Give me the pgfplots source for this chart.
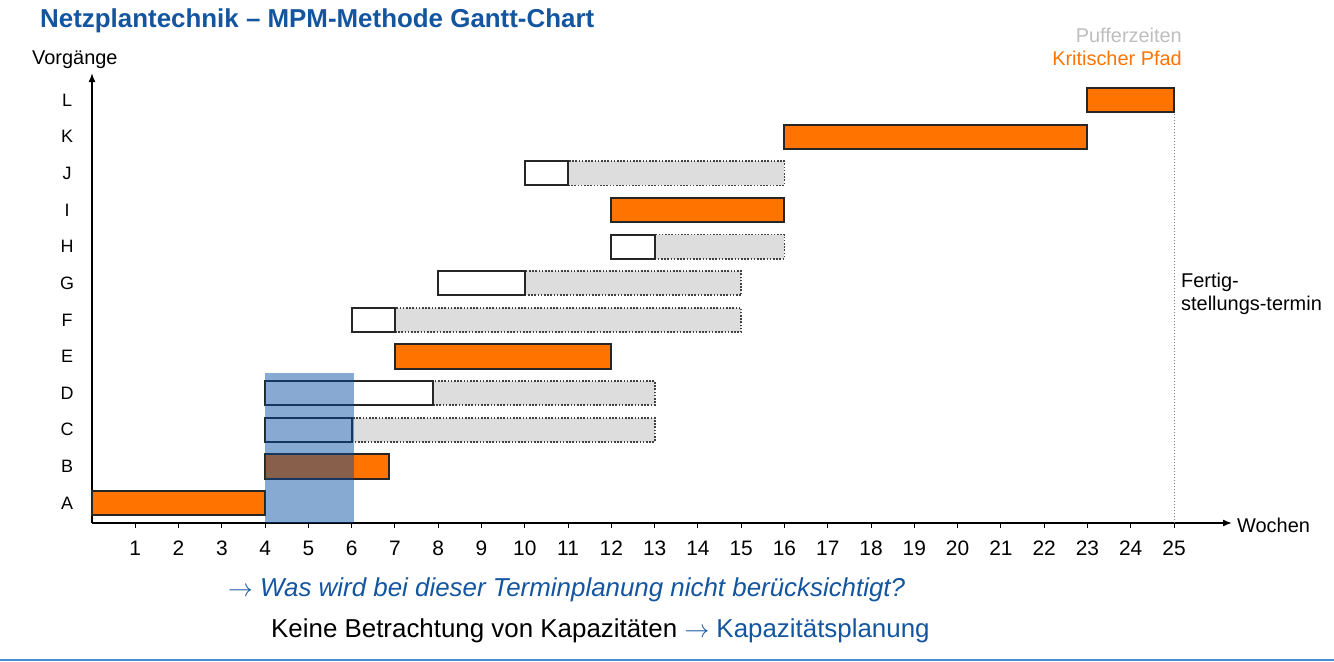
\documentclass[border=0pt]{standalone}
\usepackage{pgfplots}
\pgfplotsset{compat=1.18}
\usetikzlibrary{arrows.meta}
\usepackage{fontspec}
\setmainfont{Liberation Sans}
\definecolor{critC}{RGB}{255,115,0}
\definecolor{bufC}{RGB}{221,221,221}
\definecolor{titleC}{RGB}{20,85,160}
\definecolor{legGray}{RGB}{190,190,190}
\definecolor{lineBlue}{RGB}{70,140,210}
\definecolor{hlC}{RGB}{0,74,160}
\newcommand{\fs}[1]{\fontsize{#1}{#1}\selectfont}
\newcommand{\arr}{\ensuremath{\rightarrow}}
\begin{document}
\begin{tikzpicture}[x=1bp,y=-1bp]
\useasboundingbox (0,0) rectangle (1334,662);
\begin{axis}[
  at={(92bp,-523bp)}, anchor=south west,
  width=1140bp, height=450bp, scale only axis,
  xmin=0, xmax=26.34, ymin=0.455, ymax=12.74,
  axis lines=left,
  axis line style={line width=1.5bp, -{Latex[length=9bp,width=7bp]}},
  xtick={1,...,25}, ytick={1,...,12},
  yticklabels={A,B,C,D,E,F,G,H,I,J,K,L},
  /pgf/number format/assume math mode=true,
  x tick style={line width=1bp, black},
  y tick style={draw=none},
  tick align=outside, major tick length=5bp,
  xticklabel style={font=\fs{21}, anchor=base, yshift=-27bp},
  yticklabel style={font=\fs{18}, anchor=center, xshift=-20bp},
  clip=false,
  crit/.style={fill=critC, draw=black!85, line width=2bp},
  act/.style={fill=white, draw=black!85, line width=2bp},
  buf/.style={fill=bufC, draw=black!75, line width=1.8bp, dash pattern=on 1.6bp off 1.6bp},
]
% A
\addplot[crit] coordinates {(0,0.67) (4,0.67) (4,1.33) (0,1.33)} -- cycle;
% B
\addplot[crit] coordinates {(4,1.67) (6.87,1.67) (6.87,2.33) (4,2.33)} -- cycle;
% C
\addplot[buf] coordinates {(6,2.67) (13,2.67) (13,3.33) (6,3.33)} -- cycle;
\addplot[act] coordinates {(4,2.67) (6,2.67) (6,3.33) (4,3.33)} -- cycle;
% D
\addplot[buf] coordinates {(7.88,3.67) (13,3.67) (13,4.33) (7.88,4.33)} -- cycle;
\addplot[act] coordinates {(4,3.67) (7.88,3.67) (7.88,4.33) (4,4.33)} -- cycle;
% E
\addplot[crit] coordinates {(7,4.67) (12,4.67) (12,5.33) (7,5.33)} -- cycle;
% F
\addplot[buf] coordinates {(7,5.67) (15,5.67) (15,6.33) (7,6.33)} -- cycle;
\addplot[act] coordinates {(6,5.67) (7,5.67) (7,6.33) (6,6.33)} -- cycle;
% G
\addplot[buf] coordinates {(10,6.67) (15,6.67) (15,7.33) (10,7.33)} -- cycle;
\addplot[act] coordinates {(8,6.67) (10,6.67) (10,7.33) (8,7.33)} -- cycle;
% H
\addplot[buf] coordinates {(13,7.67) (16,7.67) (16,8.33) (13,8.33)} -- cycle;
\addplot[act] coordinates {(12,7.67) (13,7.67) (13,8.33) (12,8.33)} -- cycle;
% I
\addplot[crit] coordinates {(12,8.67) (16,8.67) (16,9.33) (12,9.33)} -- cycle;
% J
\addplot[buf] coordinates {(11,9.67) (16,9.67) (16,10.33) (11,10.33)} -- cycle;
\addplot[act] coordinates {(10,9.67) (11,9.67) (11,10.33) (10,10.33)} -- cycle;
% K
\addplot[crit] coordinates {(16,10.67) (23,10.67) (23,11.33) (16,11.33)} -- cycle;
% L
\addplot[crit] coordinates {(23,11.67) (25,11.67) (25,12.33) (23,12.33)} -- cycle;
% completion date line
\addplot[gray, line width=1bp, dash pattern=on 1.5bp off 1.5bp] coordinates {(25,0.455) (25,11.67)};
% highlight
\addplot[draw=none, fill=hlC, fill opacity=0.47] coordinates {(4,0.455) (6.05,0.455) (6.05,4.54) (4,4.54)} -- cycle;
\end{axis}
\node[anchor=base west, text=titleC, font=\fs{26}\bfseries, inner sep=0] at (40,28) {Netzplantechnik – MPM-Methode Gantt-Chart};
\node[anchor=base east, text=legGray, font=\fs{20}, inner sep=0] at (1182,43) {Pufferzeiten};
\node[anchor=base east, text=critC, font=\fs{20}, inner sep=0] at (1182,66) {Kritischer Pfad};
\node[anchor=base west, font=\fs{20}, inner sep=0] at (32,65) {Vorgänge};
\node[anchor=base west, font=\fs{20}, inner sep=0] at (1237,532) {Wochen};
\node[anchor=base west, font=\fs{20}, inner sep=0] at (1181,287) {Fertig-};
\node[anchor=base west, font=\fs{20}, inner sep=0] at (1181,310) {stellungs-termin};
\node[anchor=base west, text=titleC, font=\fs{26}, inner sep=0] at (228,596) {\arr{} \itshape Was wird bei dieser Terminplanung nicht berücksichtigt?};
\node[anchor=base west, font=\fs{26}, inner sep=0] at (271,637) {Keine Betrachtung von Kapazitäten \textcolor{titleC}{\arr{} Kapazitätsplanung}};
\draw[lineBlue, line width=2bp] (0,660) -- (1334,660);
\end{tikzpicture}
\end{document}
